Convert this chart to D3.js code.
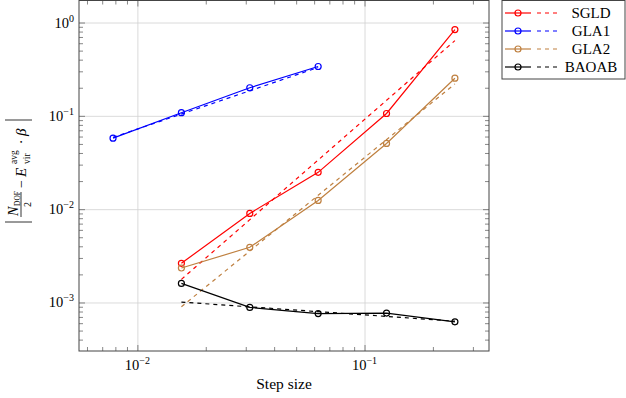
<!DOCTYPE html>
<html>
<head>
<meta charset="utf-8">
<script src="https://cdn.jsdelivr.net/npm/d3@7"></script>
<style>
  body { margin: 0; background: #fff; }
  svg { display: block; }
  text { font-family: "Liberation Serif", "DejaVu Serif", serif; fill: #000; }
</style>
</head>
<body>
<svg id="chart" width="626" height="398"></svg>
<script>
// step sizes (x) and measured errors per integrator
var sgldX = [1/64, 1/32, 1/16, 1/8, 1/4];
var sgldY = [0.00263, 0.0090, 0.0248, 0.106, 0.84];
var sgldFitX = [1/64, 1/4];
var sgldFitY = [0.00177, 0.64];

var gla1X = [1/128, 1/64, 1/32, 1/16];
var gla1Y = [0.0577, 0.108, 0.200, 0.338];
var gla1FitX = [1/128, 1/16];
var gla1FitY = [0.0588, 0.33];

var gla2X = [1/64, 1/32, 1/16, 1/8, 1/4];
var gla2Y = [0.00234, 0.0039, 0.0124, 0.0506, 0.253];
var gla2FitX = [1/64, 1/4];
var gla2FitY = [0.0009, 0.22];

var baoabX = [1/64, 1/32, 1/16, 1/8, 1/4];
var baoabY = [0.0016, 0.000885, 0.00076, 0.00077, 0.00062];
var baoabFitX = [1/64, 1/4];
var baoabFitY = [0.00101, 0.00063];

var seriesNames = ["SGLD", "GLA1", "GLA2", "BAOAB"];
var seriesColors = ["#ff0000", "#0000ff", "#bf8040", "#000000"];

var xMajor = [0.01, 0.1];
var xMinor = [0.006, 0.007, 0.008, 0.009, 0.02, 0.03, 0.04, 0.05, 0.06, 0.07, 0.08, 0.09, 0.2, 0.3];
var xTickExp = ["\u22122", "\u22121"];
var yMajor = [0.001, 0.01, 0.1, 1];
var yMinor = [];
[0.0001, 0.001, 0.01, 0.1, 1].forEach(function (d) {
    for (var k = 2; k <= 9; k++) yMinor.push(d * k);
});
var yTickExp = ["\u22123", "\u22122", "\u22121", "0"];

var plot = {left: 79, right: 489, top: 0.5, bottom: 351};
var W = plot.right - plot.left, H = plot.bottom - plot.top;

var svg = d3.select("#chart");

var x = d3.scaleLog().domain([Math.pow(10, -2.257), Math.pow(10, -0.452)]).range([plot.left, plot.right]);
var y = d3.scaleLog().domain([Math.pow(10, -3.52), Math.pow(10, 0.236)]).range([plot.bottom, plot.top]);
yMinor = yMinor.filter(function (d) { return d > y.domain()[0] && d < y.domain()[1]; });

// grid
svg.append("g")
    .attr("transform", "translate(0," + plot.bottom + ")")
    .call(d3.axisBottom(x).tickValues(xMajor).tickSize(-H).tickFormat(""))
    .call(function (g) { g.select(".domain").remove(); g.selectAll("line").attr("stroke", "#d0d0d0").attr("stroke-width", 0.8); });
svg.append("g")
    .attr("transform", "translate(" + plot.left + ",0)")
    .call(d3.axisLeft(y).tickValues(yMajor).tickSize(-W).tickFormat(""))
    .call(function (g) { g.select(".domain").remove(); g.selectAll("line").attr("stroke", "#d0d0d0").attr("stroke-width", 0.8); });

// inside ticks on all four sides
function ticks(axis, transform, values, size) {
    svg.append("g")
        .attr("transform", transform)
        .call(axis.tickValues(values).tickSize(size).tickFormat(""))
        .call(function (g) { g.select(".domain").remove(); g.selectAll("line").attr("stroke", "#555").attr("stroke-width", 0.7); });
}
ticks(d3.axisBottom(x), "translate(0," + plot.bottom + ")", xMajor, -6);
ticks(d3.axisBottom(x), "translate(0," + plot.bottom + ")", xMinor, -4);
ticks(d3.axisTop(x), "translate(0," + plot.top + ")", xMajor, -6);
ticks(d3.axisTop(x), "translate(0," + plot.top + ")", xMinor, -4);
ticks(d3.axisLeft(y), "translate(" + plot.left + ",0)", yMajor, -6);
ticks(d3.axisLeft(y), "translate(" + plot.left + ",0)", yMinor, -4);
ticks(d3.axisRight(y), "translate(" + plot.right + ",0)", yMajor, -6);
ticks(d3.axisRight(y), "translate(" + plot.right + ",0)", yMinor, -4);

svg.append("rect")
    .attr("x", plot.left).attr("y", plot.top)
    .attr("width", W).attr("height", H)
    .attr("fill", "none").attr("stroke", "#444").attr("stroke-width", 1);

// tick labels 10^k
xMajor.forEach(function (d, i) {
    var t = svg.append("text").attr("x", x(d)).attr("y", 370).attr("text-anchor", "middle").style("font-size", "14.5px");
    t.append("tspan").text("10");
    t.append("tspan").attr("dy", -6).style("font-size", "10px").text(xTickExp[i]);
});
yMajor.forEach(function (d, i) {
    var t = svg.append("text").attr("x", 74).attr("y", y(d) + 5).attr("text-anchor", "end").style("font-size", "14.5px");
    t.append("tspan").text("10");
    t.append("tspan").attr("dy", -6).style("font-size", "10px").text(yTickExp[i]);
});

svg.append("text")
    .attr("x", (plot.left + plot.right) / 2).attr("y", 389)
    .attr("text-anchor", "middle").style("font-size", "15.5px")
    .text("Step size");

// y label |N_DOF/2 - E_vir^avg . beta|
var yl = svg.append("g").attr("transform", "translate(21,171) rotate(-90)");
yl.append("line").attr("x1", -51).attr("x2", -51).attr("y1", -16).attr("y2", 11).attr("stroke", "#000").attr("stroke-width", 0.8);
yl.append("line").attr("x1", 51).attr("x2", 51).attr("y1", -16).attr("y2", 11).attr("stroke", "#000").attr("stroke-width", 0.8);
yl.append("text").attr("x", -45).attr("y", -3).style("font-size", "14px").style("font-style", "italic").text("N");
yl.append("text").attr("x", -35).attr("y", -1.5).style("font-size", "7.5px").text("DOF");
yl.append("line").attr("x1", -46).attr("x2", -21).attr("y1", 0).attr("y2", 0).attr("stroke", "#000").attr("stroke-width", 0.8);
yl.append("text").attr("x", -33.5).attr("y", 9.5).attr("text-anchor", "middle").style("font-size", "10px").text("2");
yl.append("text").attr("x", -13).attr("y", 4.5).attr("text-anchor", "middle").style("font-size", "14px").text("\u2212");
yl.append("text").attr("x", -6).attr("y", 4.5).style("font-size", "15px").style("font-style", "italic").text("E");
yl.append("text").attr("x", 7).attr("y", -4).style("font-size", "9.5px").text("avg");
yl.append("text").attr("x", 7).attr("y", 9).style("font-size", "9.5px").text("vir");
yl.append("text").attr("x", 29).attr("y", 4.5).attr("text-anchor", "middle").style("font-size", "14px").text("\u00b7");
yl.append("text").attr("x", 35).attr("y", 4.5).style("font-size", "15px").style("font-style", "italic").text("\u03b2");

// series
var line = d3.line().x(function (d) { return x(d[0]); }).y(function (d) { return y(d[1]); });
var series = [
    {xs: sgldX, ys: sgldY, fx: sgldFitX, fy: sgldFitY},
    {xs: gla1X, ys: gla1Y, fx: gla1FitX, fy: gla1FitY},
    {xs: gla2X, ys: gla2Y, fx: gla2FitX, fy: gla2FitY},
    {xs: baoabX, ys: baoabY, fx: baoabFitX, fy: baoabFitY}
];
var marks = svg.append("g");
series.forEach(function (s, i) {
    var c = seriesColors[i];
    var pts = s.xs.map(function (v, j) { return [v, s.ys[j]]; });
    var fit = s.fx.map(function (v, j) { return [v, s.fy[j]]; });
    marks.append("path").attr("d", line(fit)).attr("fill", "none").attr("stroke", c)
        .attr("stroke-width", 1.2).attr("stroke-dasharray", "4,4");
    marks.append("path").attr("d", line(pts)).attr("fill", "none").attr("stroke", c).attr("stroke-width", 1.2);
    marks.selectAll(null).data(pts).enter().append("circle")
        .attr("cx", function (d) { return x(d[0]); })
        .attr("cy", function (d) { return y(d[1]); })
        .attr("r", 3).attr("fill", "none").attr("stroke", c).attr("stroke-width", 1.2);
});

// legend
var lg = svg.append("g");
lg.append("rect").attr("x", 502).attr("y", 0.5).attr("width", 123).attr("height", 78.5)
    .attr("fill", "#fff").attr("stroke", "#444").attr("stroke-width", 1);
seriesNames.forEach(function (name, i) {
    var yy = 13 + i * 18;
    var c = seriesColors[i];
    lg.append("line").attr("x1", 505).attr("x2", 531).attr("y1", yy).attr("y2", yy).attr("stroke", c).attr("stroke-width", 1.2);
    lg.append("circle").attr("cx", 518).attr("cy", yy).attr("r", 3).attr("fill", "none").attr("stroke", c).attr("stroke-width", 1.2);
    lg.append("line").attr("x1", 537).attr("x2", 559).attr("y1", yy).attr("y2", yy).attr("stroke", c)
        .attr("stroke-width", 1.2).attr("stroke-dasharray", "4,4");
    lg.append("text").attr("x", 591).attr("y", yy + 5).attr("text-anchor", "middle").style("font-size", "15px").text(name);
});
</script>
</body>
</html>
